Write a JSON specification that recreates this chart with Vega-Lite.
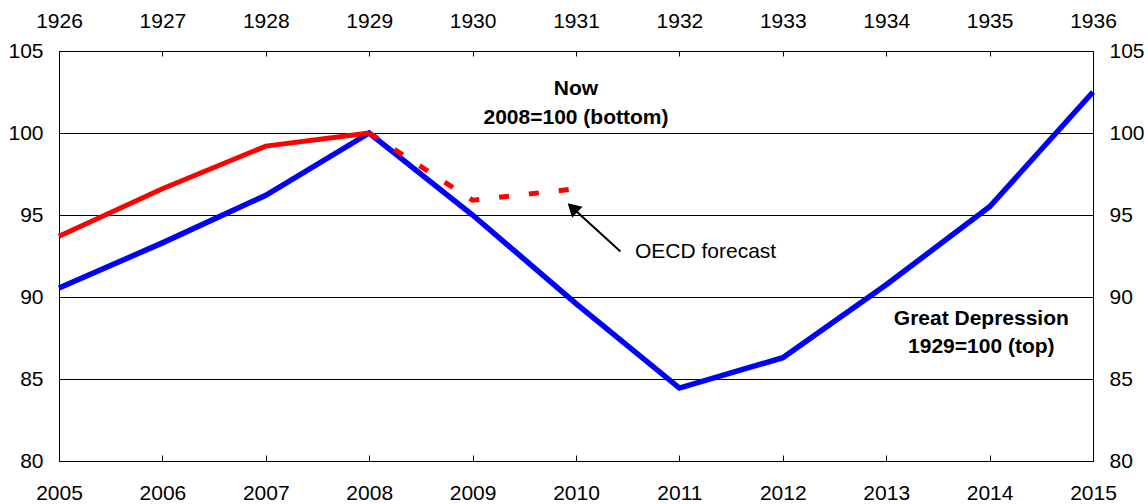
{
  "$schema": "https://vega.github.io/schema/vega-lite/v6.json",
  "width": 1034,
  "height": 410,
  "autosize": "none",
  "padding": {"left": 59, "top": 51, "right": 55, "bottom": 43},
  "background": "white",
  "config": {
    "font": "Liberation Sans",
    "view": {"stroke": "black", "strokeWidth": 1},
    "axis": {
      "labelFont": "Liberation Sans",
      "labelFontSize": 21,
      "labelColor": "black",
      "domainColor": "black",
      "domainWidth": 1,
      "tickColor": "black",
      "tickWidth": 1,
      "gridColor": "black",
      "gridWidth": 1,
      "gridOpacity": 1,
      "title": null
    }
  },
  "datasets": {
    "series": [
      {"year": 2005, "value": 90.55, "series": "Great Depression"},
      {"year": 2006, "value": 93.3, "series": "Great Depression"},
      {"year": 2007, "value": 96.2, "series": "Great Depression"},
      {"year": 2008, "value": 100, "series": "Great Depression"},
      {"year": 2009, "value": 95.0, "series": "Great Depression"},
      {"year": 2010, "value": 89.6, "series": "Great Depression"},
      {"year": 2011, "value": 84.45, "series": "Great Depression"},
      {"year": 2012, "value": 86.3, "series": "Great Depression"},
      {"year": 2013, "value": 90.75, "series": "Great Depression"},
      {"year": 2014, "value": 95.5, "series": "Great Depression"},
      {"year": 2015, "value": 102.5, "series": "Great Depression"},
      {"year": 2005, "value": 93.7, "series": "Now"},
      {"year": 2006, "value": 96.6, "series": "Now"},
      {"year": 2007, "value": 99.2, "series": "Now"},
      {"year": 2008, "value": 100, "series": "Now"},
      {"year": 2008, "value": 100, "series": "Now forecast"},
      {"year": 2009, "value": 95.9, "series": "Now forecast"},
      {"year": 2010, "value": 96.6, "series": "Now forecast"}
    ],
    "labels": [
      {"x": 2010, "y": 102.66, "text": "Now"},
      {"x": 2010, "y": 100.91, "text": "2008=100 (bottom)"},
      {"x": 2013.92, "y": 88.66, "text": "Great Depression"},
      {"x": 2013.92, "y": 86.93, "text": "1929=100 (top)"}
    ],
    "note": [
      {"x": 2010.57, "y": 92.72, "text": "OECD forecast"}
    ],
    "arrow": [
      {"x": 2010.43, "y": 92.78, "x2": 2009.966, "y2": 95.445}
    ]
  },
  "layer": [
    {
      "data": {"name": "series"},
      "transform": [{"filter": "datum.series === 'Great Depression'"}],
      "mark": {"type": "line", "color": "#0000FF", "strokeWidth": 5.5, "strokeJoin": "miter"},
      "encoding": {
        "x": {
          "field": "year", "type": "quantitative",
          "scale": {"domain": [2005, 2015], "nice": false, "zero": false},
          "axis": {"orient": "bottom", "values": [2005,2006,2007,2008,2009,2010,2011,2012,2013,2014,2015], "format": "d", "tickSize": -6, "labelPadding": 27.4, "grid": false, "labelFlush": false, "labelOverlap": false}
        },
        "y": {
          "field": "value", "type": "quantitative",
          "scale": {"domain": [80, 105], "nice": false, "zero": false},
          "axis": {"orient": "left", "values": [80,85,90,95,100,105], "ticks": false, "labelPadding": 16, "grid": true, "labelFlush": false, "labelOverlap": false}
        }
      }
    },
    {
      "data": {"name": "series"},
      "transform": [{"filter": "datum.series === 'Now'"}],
      "mark": {"type": "line", "color": "#FF0000", "strokeWidth": 5, "strokeJoin": "miter"},
      "encoding": {
        "x": {
          "field": "year", "type": "quantitative",
          "axis": {"orient": "top", "values": [2005,2006,2007,2008,2009,2010,2011,2012,2013,2014,2015], "labelExpr": "datum.value - 79", "tickSize": -5, "labelPadding": 24.3, "grid": false, "labelFlush": false, "labelOverlap": false}
        },
        "y": {
          "field": "value", "type": "quantitative",
          "axis": {"orient": "right", "values": [80,85,90,95,100,105], "ticks": false, "labelPadding": 16, "grid": false, "labelFlush": false, "labelOverlap": false}
        }
      }
    },
    {
      "data": {"name": "series"},
      "transform": [{"filter": "datum.series === 'Now forecast'"}],
      "mark": {"type": "line", "color": "#FF0000", "strokeWidth": 5, "strokeDash": [10, 20], "strokeCap": "butt"},
      "encoding": {
        "x": {"field": "year", "type": "quantitative", "axis": null},
        "y": {"field": "value", "type": "quantitative", "axis": null}
      }
    },
    {
      "data": {"name": "arrow"},
      "mark": {"type": "rule", "color": "black", "strokeWidth": 2},
      "encoding": {
        "x": {"field": "x", "type": "quantitative", "axis": null},
        "y": {"field": "y", "type": "quantitative", "axis": null},
        "x2": {"field": "x2"},
        "y2": {"field": "y2"}
      }
    },
    {
      "data": {"name": "arrow"},
      "mark": {"type": "point", "shape": "triangle-up", "filled": true, "color": "black", "opacity": 1, "size": 230, "angle": 313},
      "encoding": {
        "x": {"field": "x2", "type": "quantitative", "axis": null},
        "y": {"field": "y2", "type": "quantitative", "axis": null}
      }
    },
    {
      "data": {"name": "labels"},
      "mark": {"type": "text", "fontSize": 21, "fontWeight": "bold", "align": "center", "baseline": "middle", "color": "black"},
      "encoding": {
        "x": {"field": "x", "type": "quantitative", "axis": null},
        "y": {"field": "y", "type": "quantitative", "axis": null},
        "text": {"field": "text"}
      }
    },
    {
      "data": {"name": "note"},
      "mark": {"type": "text", "fontSize": 21, "align": "left", "baseline": "middle", "color": "black"},
      "encoding": {
        "x": {"field": "x", "type": "quantitative", "axis": null},
        "y": {"field": "y", "type": "quantitative", "axis": null},
        "text": {"field": "text"}
      }
    }
  ],
  "resolve": {"axis": {"x": "independent", "y": "independent"}}
}
